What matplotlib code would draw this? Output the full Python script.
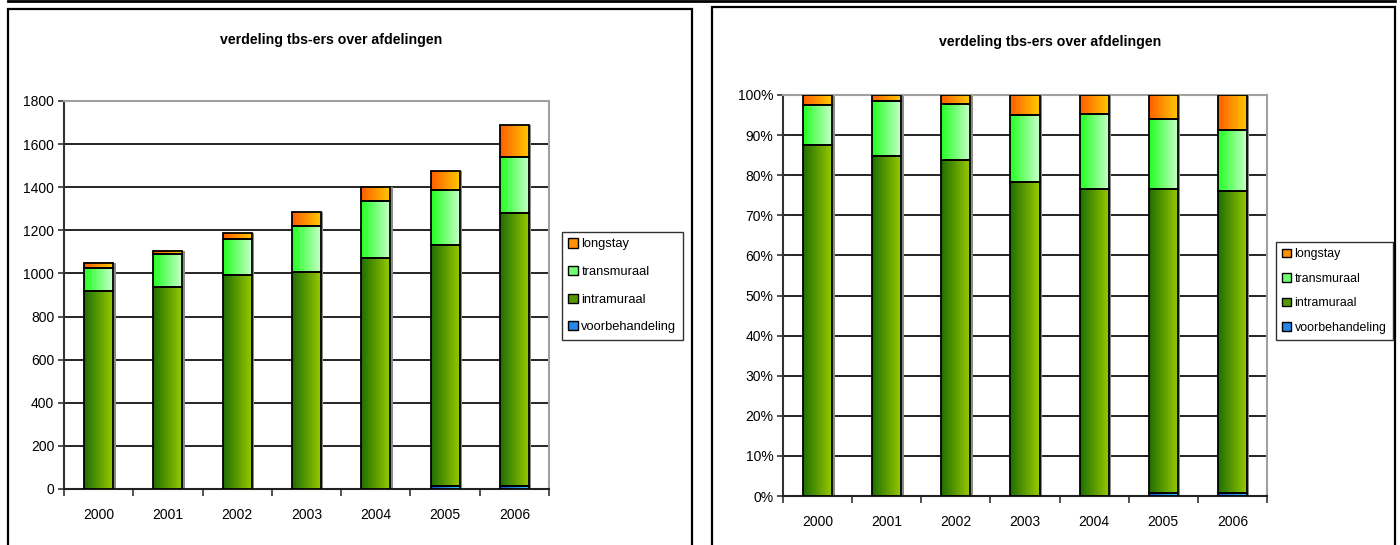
import numpy as np
import matplotlib
matplotlib.use("Agg")
import matplotlib.pyplot as plt
from matplotlib.colors import LinearSegmentedColormap
from matplotlib.patches import Patch, Rectangle
from matplotlib.lines import Line2D
from matplotlib.ticker import FuncFormatter, MultipleLocator

plt.rcParams['font.family'] = ['Liberation Sans', 'DejaVu Sans']

# data (number of tbs-ers per department)
years = ['2000', '2001', '2002', '2003', '2004', '2005', '2006']
voorbehandeling = [0, 0, 0, 0, 0, 12, 14]
intramuraal = [920, 938, 994, 1006, 1072, 1118, 1268]
transmuraal = [104, 150, 166, 215, 262, 258, 259]
longstay = [26, 17, 26, 64, 68, 88, 147]

series = [
    ('voorbehandeling', voorbehandeling, ('#1a4fd8', '#33ccff')),
    ('intramuraal', intramuraal, ('#1f6e00', '#9acb00')),
    ('transmuraal', transmuraal, ('#22ff22', '#ccffcc')),
    ('longstay', longstay, ('#ff5e00', '#ffcc00')),
]

title = 'verdeling tbs-ers over afdelingen'
W, H = 1400, 545


def draw_panel(ax, percent=False):
    x = np.arange(len(years))
    data = np.array([s[1] for s in series], dtype=float)
    if percent:
        data = data / data.sum(axis=0) * 100
    totals = data.sum(axis=0)
    bw = 0.42
    grad = np.linspace(0, 1, 64).reshape(1, -1)

    # shadow behind each stack
    ax.bar(x + 0.035, totals, width=bw, color='#8a8a8a', zorder=2)

    bottom = np.zeros(len(years))
    for idx, (name, _, (c0, c1)) in enumerate(series):
        vals = data[idx]
        cmap = LinearSegmentedColormap.from_list(name, [c0, c1])
        bars = ax.bar(x, vals, bottom=bottom, width=bw, color='none',
                      edgecolor='black', linewidth=1.3, zorder=4)
        for b in bars:
            if b.get_height() <= 0:
                b.set_visible(False)
                continue
            bx, by = b.get_x(), b.get_y()
            ax.imshow(grad, cmap=cmap, aspect='auto', zorder=3,
                      extent=[bx, bx + b.get_width(), by, by + b.get_height()])
        bottom += vals

    ax.set_xlim(-0.5, len(years) - 0.5)
    if percent:
        ax.set_ylim(0, 100)
        ax.yaxis.set_major_locator(MultipleLocator(10))
        ax.yaxis.set_major_formatter(FuncFormatter(lambda v, p: f'{v:.0f}%'))
    else:
        ax.set_ylim(0, 1800)
        ax.yaxis.set_major_locator(MultipleLocator(200))

    ax.yaxis.grid(True, color='black', linewidth=1.2, zorder=1)
    ax.set_axisbelow(True)
    ax.set_xticks(x)
    ax.set_xticklabels(years)
    ax.set_xticks(np.arange(len(years) + 1) - 0.5, minor=True)
    ax.tick_params(axis='x', which='major', length=0, pad=14, labelsize=10)
    ax.tick_params(axis='x', which='minor', length=5, width=1.2, color='#333333')
    ax.tick_params(axis='y', length=4, width=1.2, color='#333333', labelsize=10, pad=3)
    for side in ('top', 'right'):
        ax.spines[side].set_color('#a0a0a0')
        ax.spines[side].set_linewidth(1.5)
    ax.spines['left'].set_color('#333333')
    ax.spines['left'].set_linewidth(1.5)
    ax.spines['bottom'].set_color('#222222')
    ax.spines['bottom'].set_linewidth(1.5)

    handles = [Patch(facecolor=LinearSegmentedColormap.from_list('m', c)(0.45),
                     edgecolor='black', label=n) for n, _, c in series]
    return handles[::-1]


fig = plt.figure(figsize=(W / 100, H / 100), dpi=100)

ax1 = fig.add_axes([64 / W, 1 - 489 / H, 485 / W, 388 / H])
ax2 = fig.add_axes([783 / W, 1 - 496 / H, 484 / W, 401 / H])

h1 = draw_panel(ax1)
h2 = draw_panel(ax2, percent=True)

for handles, (lx, ly), fs, sp in [(h1, (562, 232), 9.3, 1.2),
                                  (h2, (1276, 242), 8.9, 1.02)]:
    leg = fig.legend(handles=handles, loc='upper left',
                     bbox_to_anchor=(lx / W, 1 - ly / H), bbox_transform=fig.transFigure,
                     frameon=True, fancybox=False, fontsize=fs,
                     handlelength=0.7, handleheight=0.7, handletextpad=0.3,
                     labelspacing=sp, borderpad=0.5, borderaxespad=0)
    leg.get_frame().set_edgecolor('black')
    leg.get_frame().set_linewidth(1.0)

fig.text(331 / W, 1 - 40 / H, title, ha='center', va='center',
         fontsize=10.2, fontweight='bold')
fig.text(1050 / W, 1 - 42 / H, title, ha='center', va='center',
         fontsize=10.2, fontweight='bold')

# chart frames and the line at the top
fig.add_artist(Rectangle((8 / W, -0.02), 684 / W, (H - 9) / H + 0.02,
                         transform=fig.transFigure, fill=False,
                         edgecolor='black', linewidth=1.6))
fig.add_artist(Rectangle((712 / W, -0.02), 683 / W, (H - 7) / H + 0.02,
                         transform=fig.transFigure, fill=False,
                         edgecolor='black', linewidth=1.6))
fig.add_artist(Line2D([8 / W, 1395 / W], [1 - 1 / H, 1 - 1 / H],
                      transform=fig.transFigure, color='black', linewidth=2))

fig.savefig('out.png', dpi=100)
